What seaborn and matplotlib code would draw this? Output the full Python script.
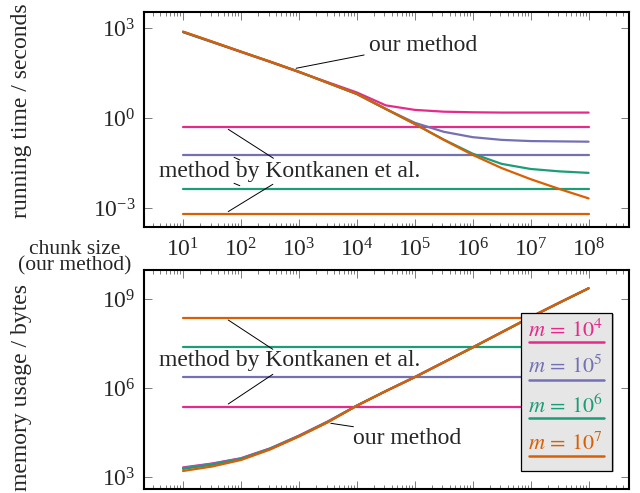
import numpy as np
import pandas as pd
import matplotlib
matplotlib.use("Agg")
import matplotlib.pyplot as plt
import seaborn as sns
from matplotlib.patches import Rectangle

sns.set_theme(style="ticks")
plt.rcParams['font.family'] = ['Liberation Serif', 'DejaVu Serif']
plt.rcParams['mathtext.fontset'] = 'stix'

# ---------------- data (log10 values) ----------------
chunk_exp = [1, 1.5, 2, 2.5, 3, 3.5, 4, 4.5, 5, 5.5, 6, 6.5, 7, 7.5, 8]
series_names = ["m=1e4", "m=1e5", "m=1e6", "m=1e7"]
legend_labels = [r"$m\,=\,10^4$", r"$m\,=\,10^5$", r"$m\,=\,10^6$", r"$m\,=\,10^7$"]
colors = ["#e7298a", "#7570b3", "#1b9e77", "#d95f02"]

time_ours_m4 = [2.86, 2.53, 2.20, 1.87, 1.53, 1.19, 0.85, 0.42, 0.27, 0.21, 0.19, 0.18, 0.18, 0.18, 0.18]
time_ours_m5 = [2.87, 2.54, 2.21, 1.88, 1.54, 1.17, 0.80, 0.30, -0.16, -0.46, -0.64, -0.73, -0.77, -0.78, -0.79]
time_ours_m6 = [2.87, 2.54, 2.21, 1.88, 1.54, 1.17, 0.80, 0.30, -0.20, -0.72, -1.19, -1.53, -1.70, -1.78, -1.83]
time_ours_m7 = [2.88, 2.55, 2.21, 1.88, 1.54, 1.17, 0.80, 0.30, -0.20, -0.73, -1.23, -1.67, -2.04, -2.37, -2.68]
time_kontkanen = [-0.29, -1.24, -2.37, -3.21]

mem_ours_m4 = [3.33, 3.46, 3.64, 3.97, 4.40, 4.88, 5.41, 5.90, 6.37, 6.87, 7.37, 7.88, 8.39, 8.88, 9.36]
mem_ours_m5 = [3.31, 3.45, 3.63, 3.96, 4.39, 4.87, 5.41, 5.90, 6.37, 6.87, 7.37, 7.88, 8.39, 8.88, 9.36]
mem_ours_m6 = [3.28, 3.42, 3.61, 3.95, 4.38, 4.86, 5.41, 5.90, 6.37, 6.87, 7.37, 7.88, 8.39, 8.88, 9.36]
mem_ours_m7 = [3.21, 3.36, 3.58, 3.93, 4.37, 4.85, 5.41, 5.90, 6.37, 6.87, 7.37, 7.88, 8.39, 8.88, 9.36]
mem_kontkanen = [5.37, 6.37, 7.37, 8.37]

x_tick_exp = [1, 2, 3, 4, 5, 6, 7, 8]
time_tick_exp = [-3, 0, 3]
mem_tick_exp = [3, 6, 9]

# ---------------- build tables ----------------
x = 10.0 ** np.array(chunk_exp)
def ours_df(arrs):
    rows = []
    for name, arr in zip(series_names, arrs):
        for xi, yi in zip(x, arr):
            rows.append((xi, 10.0 ** yi, name))
    return pd.DataFrame(rows, columns=["chunk", "value", "m"])

def konk_df(vals):
    rows = []
    for name, v in zip(series_names, vals):
        for xi in (x[0], x[-1]):
            rows.append((xi, 10.0 ** v, name))
    return pd.DataFrame(rows, columns=["chunk", "value", "m"])

time_ours = ours_df([time_ours_m4, time_ours_m5, time_ours_m6, time_ours_m7])
time_konk = konk_df(time_kontkanen)
mem_ours = ours_df([mem_ours_m4, mem_ours_m5, mem_ours_m6, mem_ours_m7])
mem_konk = konk_df(mem_kontkanen)
pal = dict(zip(series_names, colors))

FS = 17

# ---------------- figure ----------------
fig = plt.figure(figsize=(6.4, 4.93), dpi=100)
ax1 = fig.add_axes([0.225, 0.5396, 0.758, 0.4361])
ax2 = fig.add_axes([0.225, 0.0081, 0.758, 0.4442])

for ax, d1, d2 in ((ax1, time_konk, time_ours), (ax2, mem_konk, mem_ours)):
    sns.lineplot(data=d1, x="chunk", y="value", hue="m", palette=pal, ax=ax,
                 linewidth=1.6, legend=False, estimator=None)
    sns.lineplot(data=d2, x="chunk", y="value", hue="m", palette=pal, ax=ax,
                 linewidth=1.6, legend=False, estimator=None, sort=False)
    ax.set_xscale("log")
    ax.set_yscale("log")
    ax.set_xlim(10 ** 0.326, 10 ** 8.70)
    ax.set_xlabel("")
    ax.set_ylabel("")
    for s in ax.spines.values():
        s.set_linewidth(1.5)
        s.set_color("black")
    ax.set_xticks([10.0 ** e for e in x_tick_exp])
    ax.xaxis.set_minor_locator(matplotlib.ticker.LogLocator(base=10, subs=np.arange(2, 10), numticks=20))
    ax.yaxis.set_minor_locator(matplotlib.ticker.NullLocator())
    ax.tick_params(which="both", direction="in", top=True, right=True,
                   color="#666666", width=0.6, labelsize=FS)
    ax.tick_params(which="major", length=6, pad=6)
    ax.tick_params(which="minor", length=3)

ax1.set_ylim(10 ** -3.633, 10 ** 3.533)
ax1.set_yticks([10.0 ** e for e in time_tick_exp])
ax1.yaxis.set_minor_locator(matplotlib.ticker.NullLocator())
ax1.tick_params(axis="x", which="major", pad=8)
ax2.set_ylim(10 ** 2.603, 10 ** 9.976)
ax2.set_yticks([10.0 ** e for e in mem_tick_exp])
ax2.yaxis.set_minor_locator(matplotlib.ticker.NullLocator())
ax2.tick_params(axis="x", labelbottom=False)

# labels
fig.text(0.033, 0.775, "running time / seconds", rotation=90, ha="center", va="center", fontsize=FS)
fig.text(0.033, 0.215, "memory usage / bytes", rotation=90, ha="center", va="center", fontsize=FS)
fig.text(0.116, 0.477, "chunk size\n(our method)", ha="center", va="center", fontsize=15.5, linespacing=0.8)

# annotations (top)
def seg(ax, x0, y0, x1, y1):
    ax.plot([10 ** x0, 10 ** x1], [10 ** y0, 10 ** y1], color="black", lw=0.7, zorder=5)

ax1.text(10 ** 5.14, 10 ** 2.43, "our method", ha="center", va="center", fontsize=FS)
seg(ax1, 4.126, 2.10, 2.952, 1.657)
ax1.text(10 ** 2.848, 10 ** -1.79, "method by Kontkanen et al.", ha="center", va="center", fontsize=FS)
seg(ax1, 2.56, -1.343, 1.78, -0.377)
seg(ax1, 2.55, -2.21, 1.78, -3.12)
seg(ax1, 1.88, -1.31, 1.98, -1.40)
seg(ax1, 1.88, -2.177, 1.98, -2.257)

# annotations (bottom)
ax2.text(10 ** 4.863, 10 ** 4.31, "our method", ha="center", va="center", fontsize=FS)
seg(ax2, 3.941, 4.70, 3.551, 4.815)
ax2.text(10 ** 2.848, 10 ** 6.946, "method by Kontkanen et al.", ha="center", va="center", fontsize=FS)
seg(ax2, 2.55, 7.306, 1.78, 8.293)
seg(ax2, 2.55, 6.465, 1.78, 5.465)

# legend box (custom: line under each label)
lx0, lx1, ly0, ly1 = 0.777, 0.965, 0.082, 0.805
ax2.add_patch(Rectangle((lx0 + 0.004, ly0 - 0.006), lx1 - lx0, ly1 - ly0, transform=ax2.transAxes,
                        facecolor="#b8b8b8", edgecolor="none", zorder=9))
ax2.add_patch(Rectangle((lx0, ly0), lx1 - lx0, ly1 - ly0, transform=ax2.transAxes,
                        facecolor="#e6e6e6", edgecolor="black", lw=0.9, zorder=10))
text_y = [0.722, 0.556, 0.378, 0.209]
line_y = [0.670, 0.497, 0.324, 0.153]
for lab, c, ty, ly in zip(legend_labels, colors, text_y, line_y):
    ax2.text(0.792, ty, lab, color=c, fontsize=16, ha="left", va="center",
             transform=ax2.transAxes, zorder=11)
    ax2.plot([0.794, 0.949], [ly, ly], color=c, lw=1.8, transform=ax2.transAxes, zorder=11)

fig.savefig("out.png", dpi=100)
